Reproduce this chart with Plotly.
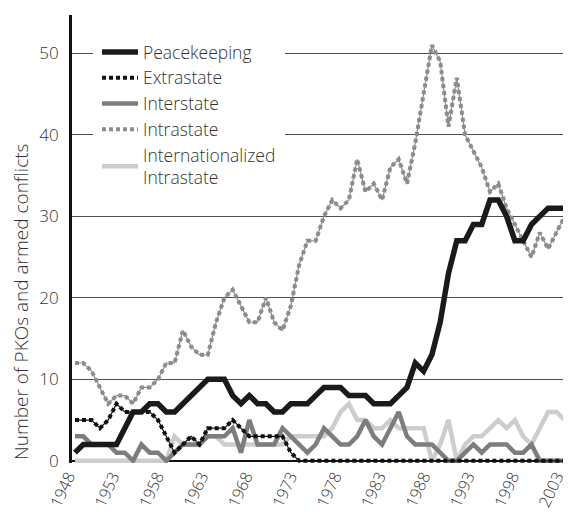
import plotly.graph_objects as go

years = list(range(1948, 2009))

peacekeeping = [1, 2, 2, 2, 2, 2, 4, 6, 6, 7,
                7, 6, 6, 7, 8, 9, 10, 10, 10, 8,
                7, 8, 7, 7, 6, 6, 7, 7, 7, 8,
                9, 9, 9, 8, 8, 8, 7, 7, 7, 8,
                9, 12, 11, 13, 17, 23, 27, 27, 29, 29,
                32, 32, 30, 27, 27, 29, 30, 31, 31, 31,
                31]
extrastate = [5, 5, 5, 4, 5, 7, 6, 6, 6, 6,
              5, 3, 1, 2, 3, 2, 4, 4, 4, 5,
              4, 3, 3, 3, 3, 3, 1, 0, 0, 0,
              0, 0, 0, 0, 0, 0, 0, 0, 0, 0,
              0, 0, 0, 0, 0, 0, 0, 0, 0, 0,
              0, 0, 0, 0, 0, 0, 0, 0, 0, 0,
              0]
interstate = [3, 3, 2, 2, 2, 1, 1, 0, 2, 1,
              1, 0, 1, 2, 2, 2, 3, 3, 3, 4,
              1, 5, 2, 2, 2, 4, 3, 2, 1, 2,
              4, 3, 2, 2, 3, 5, 3, 2, 4, 6,
              3, 2, 2, 2, 1, 0, 0, 1, 2, 1,
              2, 2, 2, 1, 1, 2, 0, 0, 0, 0,
              1]
intrastate = [12, 12, 11, 9, 7, 8, 8, 7, 9, 9,
              10, 12, 12, 16, 14, 13, 13, 17, 20, 21,
              19, 17, 17, 20, 17, 16, 19, 24, 27, 27,
              30, 32, 31, 32, 37, 33, 34, 32, 36, 37,
              34, 39, 45, 51, 49, 41, 47, 40, 38, 36,
              33, 34, 31, 29, 27, 25, 28, 26, 28, 30,
              30]
internationalized = [0, 0, 0, 0, 0, 0, 0, 0, 0, 0,
                     0, 0, 3, 2, 2, 2, 3, 3, 2, 2,
                     2, 2, 2, 2, 2, 2, 3, 3, 3, 3,
                     3, 4, 6, 7, 5, 5, 4, 4, 5, 4,
                     4, 4, 4, 0, 2, 5, 0, 2, 3, 3,
                     4, 5, 4, 5, 3, 2, 4, 6, 6, 5,
                     5]

tick_labels = ["1948", "1953", "1958", "1963", "1968", "1973",
               "1978", "1983", "1988", "1993", "1998", "2003"]
# label positions in the reference are spread slightly wider than the data years
tick_pos = [1947.8 + i * 5.35 for i in range(len(tick_labels))]

FONT = "Open Sans"
TXT = "#333333"

fig = go.Figure()

fig.add_trace(go.Scatter(x=years, y=internationalized, mode="lines",
                         name="Internationalized<br>Intrastate", legendrank=5,
                         line=dict(color="#cdcdcd", width=4.5)))
fig.add_trace(go.Scatter(x=years, y=intrastate, mode="lines", showlegend=False,
                         hoverinfo="skip",
                         line=dict(color="#8c8c8c", width=1.2)))
fig.add_trace(go.Scatter(x=years, y=intrastate, mode="lines", name="Intrastate",
                         legendrank=4,
                         line=dict(color="#8c8c8c", width=4, dash="4px,3px")))
fig.add_trace(go.Scatter(x=years, y=interstate, mode="lines", name="Interstate",
                         legendrank=3,
                         line=dict(color="#7d7d7d", width=4.5)))
fig.add_trace(go.Scatter(x=years, y=extrastate, mode="lines", showlegend=False,
                         hoverinfo="skip",
                         line=dict(color="#111111", width=1.2)))
fig.add_trace(go.Scatter(x=years, y=extrastate, mode="lines", name="Extrastate",
                         legendrank=2,
                         line=dict(color="#111111", width=4, dash="4px,3px")))
fig.add_trace(go.Scatter(x=years, y=peacekeeping, mode="lines", name="Peacekeeping",
                         legendrank=1,
                         line=dict(color="#1a1a1a", width=5.5)))

# page body has an 8px margin, so the figure is 8px smaller than the window
fig.update_layout(
    width=563, height=504,
    margin=dict(l=64, r=0, t=7, b=49),
    paper_bgcolor="white", plot_bgcolor="white",
    font=dict(family=FONT, size=16, color=TXT, weight=300),
    showlegend=True,
    legend=dict(x=(93 - 72) / 499, y=(463 - 30) / 448, xanchor="left", yanchor="top",
                bgcolor="white", bordercolor="white", borderwidth=4,
                traceorder="normal", itemwidth=36,
                font=dict(family=FONT, size=17.5, color=TXT, weight=300)),
    xaxis=dict(range=[1947.64, 2007.76], showgrid=False, zeroline=False,
               showline=False, ticks="", ticklabeloverflow="allow",
               ticklabelshift=-5,
               tickmode="array", tickvals=tick_pos, ticktext=tick_labels,
               tickangle=-65, tickfont=dict(family=FONT, size=16, color=TXT, weight=300)),
    yaxis=dict(range=[-0.27, 54.7], tickmode="array", tickvals=[0, 10, 20, 30, 40, 50],
               showgrid=True, gridcolor="#505050", gridwidth=1,
               zeroline=True, zerolinecolor="#111111", zerolinewidth=2,
               showline=True, linecolor="#111111", linewidth=3,
               ticks="", ticklabelstandoff=7,
               tickfont=dict(family=FONT, size=17, color=TXT, weight=300)),
    annotations=[dict(text="Number of PKOs and armed conflicts", textangle=-90,
                      xref="paper", yref="paper", x=(21 - 72) / 499, y=(463 - 302) / 448,
                      xanchor="center", yanchor="middle", showarrow=False,
                      font=dict(family=FONT, size=19, color=TXT, weight=300))],
)

fig.write_html("out.html")
